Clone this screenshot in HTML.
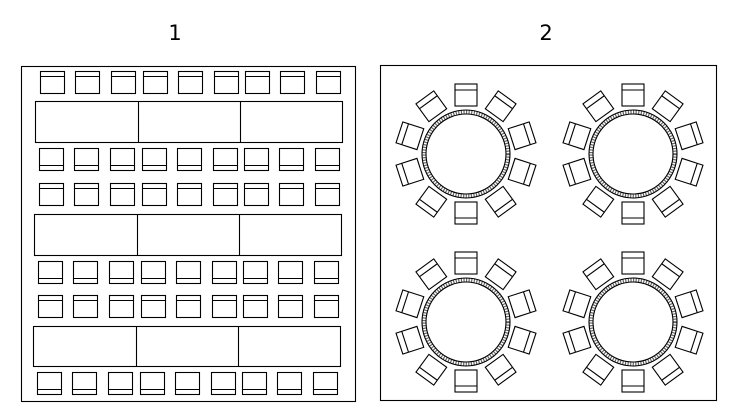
<!DOCTYPE html>
<html><head><meta charset="utf-8"><style>
html,body{margin:0;padding:0;background:#fff;width:737px;height:419px;overflow:hidden}
text{font-family:"DejaVu Sans","Liberation Sans",sans-serif;font-size:21px}
</style></head><body>
<svg id="s" width="737" height="419" xmlns="http://www.w3.org/2000/svg" fill="none" stroke="#000" stroke-width="1.1">
<text x="175" y="40" text-anchor="middle" fill="#000" stroke="none">1</text>
<text x="546" y="40" text-anchor="middle" fill="#000" stroke="none">2</text>
<rect x="21.5" y="66.5" width="334" height="335"/>
<rect x="380.5" y="65.5" width="336" height="335"/>
</svg>
<script>
var s=document.getElementById('s'),h='';
var xs=[0,35,71,103,138,174,205,240,276];
var rows=[[40,71,1],[39,148,0],[39,183,1],[38,261,0],[38,295,1],[37,372,0]];
rows.forEach(function(r){xs.forEach(function(dx){var x=r[0]+dx+.5,y=r[1]+.5;
h+='<rect x="'+x+'" y="'+y+'" width="24" height="22"/>';
var ly=r[2]?y+5:y+17;h+='<line x1="'+x+'" y1="'+ly+'" x2="'+(x+24)+'" y2="'+ly+'"/>';});});
[[35,101,138,240,342,142],[34,214,137,239,341,255],[33,326,136,238,340,366]].forEach(function(t){
h+='<rect x="'+(t[0]+.5)+'" y="'+(t[1]+.5)+'" width="'+(t[4]-t[0])+'" height="'+(t[5]-t[1])+'"/>';
h+='<line x1="'+(t[2]+.5)+'" y1="'+t[1]+'" x2="'+(t[2]+.5)+'" y2="'+t[5]+'"/>';
h+='<line x1="'+(t[3]+.5)+'" y1="'+t[1]+'" x2="'+(t[3]+.5)+'" y2="'+t[5]+'"/>';});
[[466,154],[633,154],[466,322],[633,322]].forEach(function(c){
h+='<circle cx="'+c[0]+'" cy="'+c[1]+'" r="40"/><circle cx="'+c[0]+'" cy="'+c[1]+'" r="44"/>';
h+='<circle cx="'+c[0]+'" cy="'+c[1]+'" r="42" stroke-width="4" stroke-dasharray="1.2 1.4" stroke-opacity=".6"/>';
for(var i=0;i<10;i++){var a=i*36;
h+='<g transform="translate('+c[0]+','+c[1]+') rotate('+a+') translate(0,-59)"><rect x="-11" y="-11" width="22" height="22"/><line x1="-11" y1="-5" x2="11" y2="-5"/></g>';}});
s.insertAdjacentHTML('beforeend',h);
</script>
</body></html>
